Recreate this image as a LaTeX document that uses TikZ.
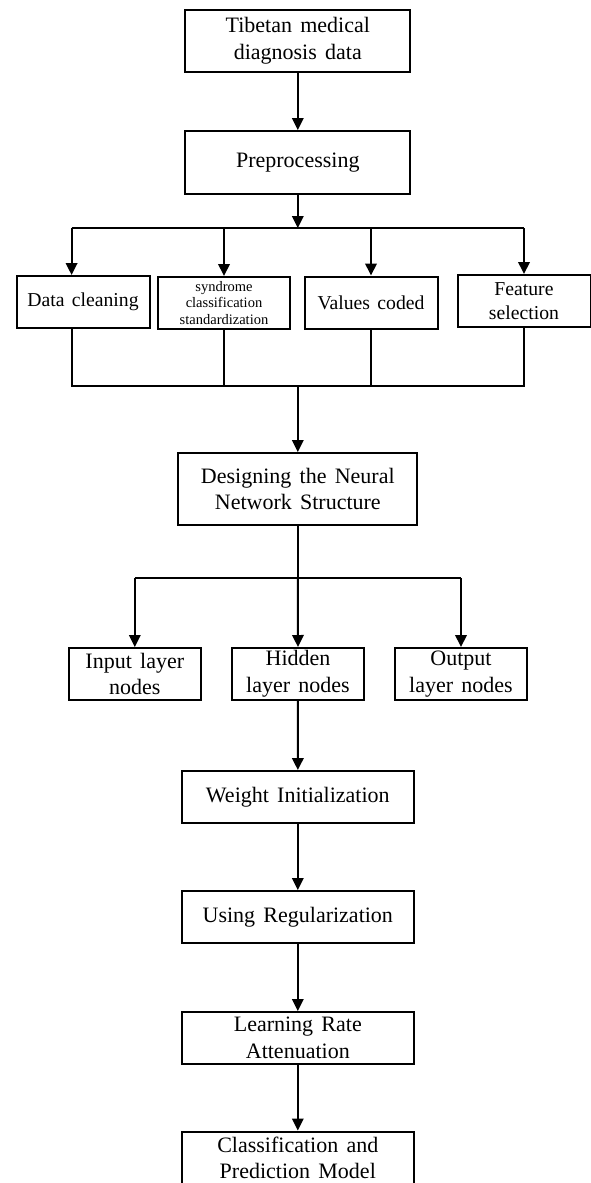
\documentclass[tikz,border=0pt]{standalone}
\usepackage{fontspec}
\setmainfont{Liberation Serif}[WordSpace=1.5]
\usetikzlibrary{arrows.meta}

\begin{document}
\begin{tikzpicture}[x=1pt, y=-1pt,
    box/.style = {draw, line width=2pt, align=center, inner sep=0pt,
                minimum width=#1, minimum height=52pt,
                font=\fontsize{22}{26.7}\selectfont},
    box/.default = 132pt,  % width of the small boxes
    arr/.style = {line width=2pt, -{Triangle[length=12pt,width=11.5pt]}},
    ln/.style = {line width=2pt}
                    ]
        \useasboundingbox (0,0) rectangle (591,1183);
        \def\mx{297.8}
        \node[box=225pt, minimum height=62pt] at (\mx,41) (tib) {Tibetan medical\\diagnosis data};
        \node[box=225pt, minimum height=63pt] at (\mx,162.5) (pre) {Preprocessing};
        \foreach \x/\y/\v/\t in {83/302/dc/Data cleaning, 371/302.5/val/Values coded, 524/301/fs/Feature\\selection}
            \node[box=133pt, font=\fontsize{19.7}{24}\selectfont] at (\x,\y) (\v) {\t};
        \node[box=132pt, font=\fontsize{14.5}{16.6}\selectfont] at (224,303) (syn) {syndrome\\classification\\standardization};
        \node[box=239pt, minimum height=72pt] at (\mx,489) (des) {Designing the Neural\\Network Structure};
        \foreach \x/\v/\t in {134.8/inp/Input layer\\nodes, 298/hid/Hidden\\layer nodes, 461/out/Output\\layer nodes}
            \node[box=132pt] at (\x,674) (\v) {\t};
        \foreach \y/\v/\t in {797/wi/Weight Initialization, 917/reg/Using Regularization, 1038/lr/Learning Rate\\Attenuation}
            \node[box=232pt] at (\mx,\y) (\v) {\t};
        \node[box=232pt, font=\fontsize{22}{26}\selectfont] at (\mx,1157.5) (cls) {Classification and\\Prediction Model};
        % first split
        \coordinate (s1) at (\mx,228);
        \coordinate (s1l) at (71.6,228);
        \coordinate (s1r) at (524,228);
        \draw [arr] (tib) -- (pre);
        \draw [arr] (pre) -- (s1);
        \draw [ln] (s1l) -- (s1r);
        \draw [arr] (s1l) -- (s1l |- dc.north);
        \draw [arr] (syn.north |- s1) -- (syn.north);
        \draw [arr] (val.north |- s1) -- (val.north);
        \draw [arr] (fs.north |- s1) -- (fs.north);
        % merge
        \coordinate (m1) at (\mx,386);
        \draw [ln] (s1l |- dc.south) -- (s1l |- m1) -- (s1r |- m1) -- (fs.south);
        \draw [ln] (syn.south) -- (syn.south |- m1);
        \draw [ln] (val.south) -- (val.south |- m1);
        \draw [arr] (m1) -- (des);
        % second split
        \coordinate (s2) at (\mx,578);
        \draw [ln] (des) -- (s2);
        \draw [ln] (inp.north |- s2) -- (out.north |- s2);
        \draw [arr] (inp.north |- s2) -- (inp.north);
        \draw [arr] (s2) -- (hid.north);
        \draw [arr] (out.north |- s2) -- (out.north);
        \draw [arr] (hid) -- (wi);
        \draw [arr] (wi) -- (reg);
        \draw [arr] (reg) -- (lr);
        \draw [arr] (lr) -- (cls);
    \end{tikzpicture}
\end{document}
